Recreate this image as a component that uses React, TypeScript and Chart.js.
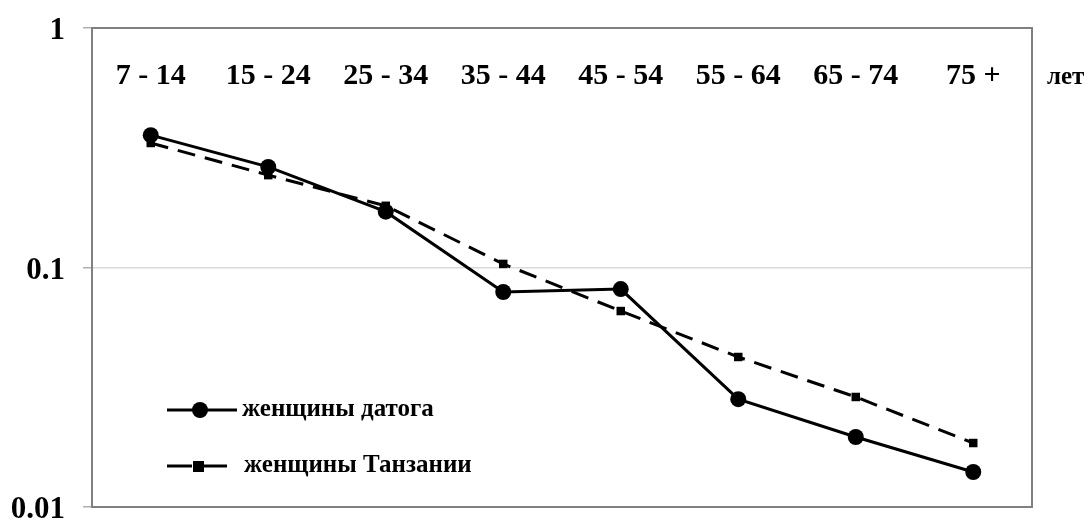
import React, { useEffect, useRef } from "react";
import { Chart, registerables } from "chart.js";

Chart.register(...registerables);

const categories = ["7 - 14", "15 - 24", "25 - 34", "35 - 44", "45 - 54", "55 - 64", "65 - 74", "75 +"];
const datogaValues = [0.357, 0.263, 0.171, 0.079, 0.0813, 0.0282, 0.0196, 0.014];
const tanzaniaValues = [0.331, 0.243, 0.181, 0.1035, 0.0658, 0.0423, 0.0288, 0.0185];
const yTickValues = [0.01, 0.1, 1];
const seriesLabels = ["женщины датога", "женщины Танзании"];
const unitLabel = "лет";

const FONT = "'Liberation Serif', 'Times New Roman', serif";

const overlayPlugin = {
  id: "overlay",
  beforeDatasetsDraw(chart: any) {
    const { ctx, chartArea, scales } = chart;
    ctx.save();
    ctx.fillStyle = "#000";
    ctx.font = `bold 30px ${FONT}`;
    ctx.textAlign = "center";
    ctx.textBaseline = "middle";
    categories.forEach((c, i) => {
      ctx.fillText(c, scales.x.getPixelForValue(i), chartArea.top + 48);
    });
    ctx.font = `bold 25px ${FONT}`;
    ctx.textAlign = "left";
    ctx.fillText(unitLabel, chartArea.right + 15, chartArea.top + 50);
    ctx.restore();
  },
  afterDraw(chart: any) {
    const { ctx, chartArea } = chart;
    ctx.save();
    ctx.strokeStyle = "#808080";
    ctx.lineWidth = 2;
    ctx.strokeRect(chartArea.left, chartArea.top, chartArea.right - chartArea.left, chartArea.bottom - chartArea.top);
    const lx = 167;
    const rows = [382, 438].map((d) => chartArea.top + d);
    ctx.fillStyle = "#000";
    ctx.strokeStyle = "#000";
    ctx.lineWidth = 3;
    ctx.beginPath();
    ctx.moveTo(lx, rows[0]);
    ctx.lineTo(lx + 70, rows[0]);
    ctx.stroke();
    ctx.beginPath();
    ctx.arc(lx + 33, rows[0], 8, 0, Math.PI * 2);
    ctx.fill();
    ctx.beginPath();
    ctx.moveTo(lx, rows[1]);
    ctx.lineTo(lx + 25, rows[1]);
    ctx.moveTo(lx + 37, rows[1]);
    ctx.lineTo(lx + 60, rows[1]);
    ctx.stroke();
    ctx.fillRect(lx + 26, rows[1] - 5, 11, 11);
    ctx.font = `bold 25px ${FONT}`;
    ctx.textAlign = "left";
    ctx.textBaseline = "middle";
    ctx.fillText(seriesLabels[0], lx + 75, rows[0]);
    ctx.fillText(seriesLabels[1], lx + 77, rows[1]);
    ctx.restore();
  },
};

export default function App() {
  const canvasRef = useRef<HTMLCanvasElement>(null);
  useEffect(() => {
    if (!canvasRef.current) return;
    const chart = new Chart(canvasRef.current, {
      type: "line",
      data: {
        labels: categories,
        datasets: [
          {
            label: seriesLabels[0],
            data: datogaValues,
            borderColor: "#000",
            backgroundColor: "#000",
            borderWidth: 3,
            pointStyle: "circle",
            pointRadius: 8,
            pointBackgroundColor: "#000",
            pointBorderWidth: 0,
            tension: 0,
          },
          {
            label: seriesLabels[1],
            data: tanzaniaValues,
            borderColor: "#000",
            backgroundColor: "#000",
            borderWidth: 3,
            borderDash: [18, 10],
            pointStyle: "rect",
            pointRadius: 6,
            pointBackgroundColor: "#000",
            pointBorderWidth: 0,
            tension: 0,
          },
        ],
      },
      options: {
        animation: false,
        responsive: false,
        layout: { padding: { left: 0, top: 28, right: 57, bottom: 13 } },
        plugins: { legend: { display: false }, tooltip: { enabled: false } },
        scales: {
          x: {
            type: "category",
            offset: true,
            display: false,
          },
          y: {
            type: "logarithmic",
            min: 0.01,
            max: 1,
            afterBuildTicks: (scale: any) => {
              scale.ticks = yTickValues.map((v) => ({ value: v }));
            },
            afterFit: (scale: any) => {
              scale.width = 92;
              scale.paddingTop = 0;
              scale.paddingBottom = 0;
            },
            border: { display: false },
            grid: {
              color: (ctx: any) => (ctx.tick && ctx.tick.value === 0.1 ? "#d9d9d9" : "rgba(0,0,0,0)"),
              lineWidth: 1.5,
              tickColor: "#b0b0b0",
              tickLength: 9,
              drawTicks: true,
            },
            ticks: {
              color: "#000",
              font: { family: FONT, size: 31, weight: "bold" },
              padding: 18,
              labelOffset: 3,
              callback: (v: any) => String(v),
            },
          },
        },
      },
      plugins: [overlayPlugin],
    } as any);
    return () => chart.destroy();
  }, []);
  return (
    <div style={{ position: "fixed", left: 0, top: 0, width: 1089, height: 520, background: "#fff" }}>
      <canvas ref={canvasRef} width={1089} height={520} style={{ width: 1089, height: 520 }} />
    </div>
  );
}
